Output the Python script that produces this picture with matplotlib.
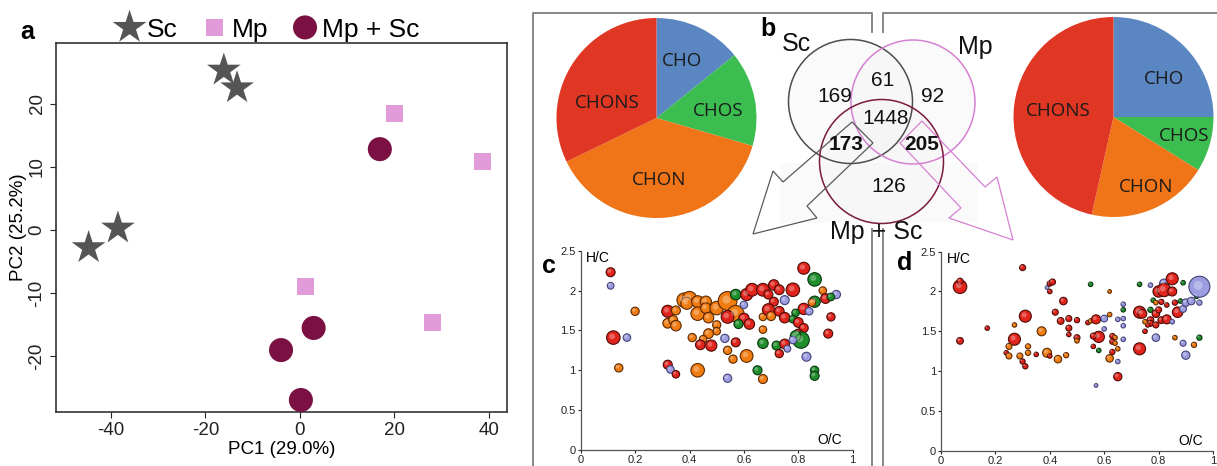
import matplotlib.pyplot as plt
import matplotlib.transforms as mtransforms
from matplotlib.patches import Circle, Polygon, Rectangle

plt.rcParams['font.family'] = ['Liberation Sans', 'DejaVu Sans']
plt.rcParams['axes.unicode_minus'] = False

W, H = 1217, 466

# ---- a: PCA scores ----
sc_pc1 = [-16.1, -13.3, -38.5, -44.7]
sc_pc2 = [25.3, 22.5, 0.3, -2.8]
mp_pc1 = [20.1, 38.7, 1.2, 28.1]
mp_pc2 = [18.5, 10.8, -9.0, -14.7]
mpsc_pc1 = [16.9, 2.9, -4.0, 0.2]
mpsc_pc2 = [12.8, -15.5, -19.0, -26.9]

# ---- b: class composition (%) and venn counts ----
pie_classes = ['CHO', 'CHOS', 'CHON', 'CHONS']
pie_left = [14.2, 15.3, 38.3, 32.2]
pie_right = [25.0, 8.9, 19.6, 46.5]
venn_sets = ['Sc', 'Mp', 'Mp + Sc']
venn_counts = [169, 61, 92, 1448, 173, 205, 126]
venn_bold = [False, False, False, False, True, True, False]

# ---- c / d: van Krevelen (O/C, H/C, intensity, class) ----
c_oc = [0.11, 0.11, 0.12, 0.17, 0.14, 0.20, 0.32, 0.35, 0.32, 0.34, 0.35, 0.38, 0.40, 0.39, 0.43,
        0.46, 0.43, 0.46, 0.50, 0.54, 0.57, 0.47, 0.50, 0.50, 0.54, 0.47, 0.41, 0.45, 0.44, 0.48,
        0.53, 0.57, 0.54, 0.56, 0.61, 0.43, 0.54, 0.32, 0.33, 0.35, 0.57, 0.61, 0.63, 0.67, 0.71,
        0.73, 0.78, 0.69, 0.75, 0.71, 0.60, 0.60, 0.62, 0.58, 0.67, 0.69, 0.70, 0.73, 0.75, 0.67,
        0.67, 0.72, 0.75, 0.76, 0.73, 0.65, 0.67, 0.82, 0.86, 0.89, 0.94, 0.90, 0.92, 0.86, 0.85,
        0.82, 0.84, 0.79, 0.78, 0.80, 0.82, 0.80, 0.81, 0.79, 0.78, 0.92, 0.91, 0.83, 0.86, 0.86]
c_hc = [2.23, 2.06, 1.41, 1.41, 1.03, 1.74, 1.74, 1.75, 1.59, 1.63, 1.56, 1.88, 1.90, 1.84, 1.86,
        1.86, 1.71, 1.78, 1.78, 1.87, 1.71, 1.66, 1.57, 1.49, 1.67, 1.46, 1.41, 1.39, 1.32, 1.31,
        1.40, 1.35, 1.25, 1.14, 1.18, 1.00, 0.90, 1.07, 1.01, 0.95, 1.95, 1.95, 2.01, 2.01, 2.07,
        2.01, 2.01, 1.95, 1.88, 1.86, 1.82, 1.65, 1.58, 1.58, 1.67, 1.76, 1.68, 1.74, 1.66, 1.51,
        1.34, 1.31, 1.33, 1.27, 1.21, 1.00, 0.89, 2.28, 2.14, 2.00, 1.95, 1.90, 1.92, 1.86, 1.85,
        1.77, 1.74, 1.72, 1.64, 1.60, 1.53, 1.46, 1.38, 1.43, 1.38, 1.67, 1.46, 1.17, 1.00, 0.93]
c_int = [12, 9, 18, 10, 11, 11, 16, 12, 13, 12, 14, 19, 19, 16, 16,
         15, 18, 14, 18, 25, 22, 14, 11, 10, 17, 13, 11, 10, 13, 15,
         11, 12, 11, 11, 17, 18, 11, 12, 10, 10, 14, 16, 17, 17, 14,
         13, 18, 12, 12, 12, 10, 14, 14, 12, 10, 16, 12, 13, 14, 10,
         14, 12, 13, 9, 11, 12, 12, 16, 18, 10, 11, 13, 10, 15, 10,
         15, 10, 10, 10, 13, 12, 12, 22, 14, 10, 11, 12, 12, 11, 12]
c_cls = list('RLRLOOROOO' 'OOOOOOOOOO' 'OOOOROOORR' 'LROOOOLRLR' 'GRRRRRRRLR'
             'LRRGORORRO' 'GGRLRGORGO' 'LRGGORLGGR' 'RRGGLRRLGG')

d_oc = [0.07, 0.07, 0.07, 0.30, 0.17, 0.31, 0.27, 0.27, 0.25, 0.24, 0.25, 0.29, 0.30, 0.31, 0.32,
        0.32, 0.35, 0.37, 0.39, 0.40, 0.43, 0.46, 0.39, 0.40, 0.41, 0.40, 0.45, 0.42, 0.44, 0.47,
        0.47, 0.47, 0.50, 0.50, 0.50, 0.54, 0.55, 0.55, 0.57, 0.60, 0.60, 0.58, 0.56, 0.56, 0.58,
        0.62, 0.62, 0.63, 0.64, 0.63, 0.64, 0.65, 0.63, 0.62, 0.65, 0.65, 0.57, 0.65, 0.67, 0.67,
        0.67, 0.67, 0.67, 0.73, 0.73, 0.77, 0.73, 0.74, 0.77, 0.77, 0.76, 0.75, 0.75, 0.78, 0.79,
        0.77, 0.79, 0.80, 0.79, 0.81, 0.83, 0.79, 0.82, 0.80, 0.82, 0.85, 0.85, 0.81, 0.83, 0.86,
        0.88, 0.87, 0.85, 0.89, 0.90, 0.92, 0.94, 0.95, 0.89, 0.95, 0.86, 0.89, 0.90, 0.93, 0.95]
d_hc = [2.06, 2.13, 1.38, 2.30, 1.54, 1.69, 1.58, 1.40, 1.31, 1.23, 1.19, 1.19, 1.12, 1.06, 1.31,
        1.23, 1.21, 1.50, 1.23, 1.19, 1.15, 1.20, 2.05, 2.10, 2.12, 2.00, 1.88, 1.74, 1.63, 1.66,
        1.54, 1.46, 1.64, 1.42, 1.38, 1.61, 1.63, 2.09, 1.65, 1.66, 1.53, 1.43, 1.44, 1.31, 1.26,
        2.00, 1.71, 1.44, 1.42, 1.37, 1.35, 1.28, 1.24, 1.16, 1.12, 0.93, 0.82, 1.65, 1.84, 1.77,
        1.66, 1.57, 1.40, 1.28, 2.09, 2.08, 1.74, 1.72, 1.64, 1.60, 1.58, 1.62, 1.50, 1.89, 1.86,
        1.77, 1.72, 1.77, 1.58, 1.64, 1.65, 1.42, 2.10, 2.00, 2.02, 2.16, 2.00, 1.87, 1.83, 1.86,
        1.88, 1.74, 1.62, 1.78, 1.86, 1.88, 1.94, 2.06, 2.11, 1.86, 1.42, 1.35, 1.20, 1.33, 1.42]
d_int = [18, 8, 9, 8, 6, 16, 6, 16, 8, 6, 8, 8, 7, 7, 7,
         7, 6, 12, 12, 6, 10, 7, 5, 7, 8, 6, 10, 8, 9, 8,
         8, 6, 7, 8, 6, 6, 6, 6, 12, 9, 6, 15, 8, 6, 6,
         5, 6, 7, 6, 7, 6, 6, 7, 10, 6, 11, 5, 6, 6, 6,
         6, 6, 6, 16, 6, 6, 16, 12, 9, 8, 6, 6, 6, 6, 6,
         7, 10, 8, 8, 9, 12, 10, 12, 15, 18, 16, 12, 7, 6, 7,
         6, 14, 6, 9, 10, 10, 6, 28, 6, 7, 6, 8, 11, 7, 7]
d_cls = list('RRRRRROROR' 'OORROOROOR' 'OOLRRRRRRR' 'RRRROROGRL' 'LRRRGOOROR'
             'OOROLRLLLG' 'LLLRGLRRRR' 'RORGOGRRRR' 'RLLRRRRRRR' 'GRLLLLGLGL' 'OLLOG')

cls_face = {'O': '#f07c12', 'R': '#e0241c', 'G': '#1f8f2c', 'L': '#9c9ce0'}
cls_edge = {'O': '#5e2a00', 'R': '#4f0b06', 'G': '#0a3510', 'L': '#44447a'}

fig = plt.figure(figsize=(W / 100, H / 100), dpi=100)


def add_px_axes(l, t, r, b):
    return fig.add_axes([l / W, 1 - b / H, (r - l) / W, (b - t) / H])


# overlay in pixel units for frames, venn and arrows
bg = fig.add_axes([0, 0, 1, 1])
bg.set_xlim(0, W)
bg.set_ylim(H, 0)
bg.axis('off')
fc = '#7d7d7d'
bg.plot([533, 533, 872, 872], [466, 13, 13, 32], color=fc, lw=1.3)
bg.plot([883, 883, 1217], [32, 13, 13], color=fc, lw=1.3)
bg.plot([872, 872], [229, 466], color=fc, lw=1.3)
bg.plot([883, 883], [229, 466], color=fc, lw=1.3)

bg.add_patch(Rectangle((780, 163), 198, 60, fc='#fafafa', ec='none'))
venn_geo = [((850.5, 101.5), '#4d4d4d'), ((913, 102), '#d680d3'), ((881.5, 161.5), '#7a1a3e')]
for (cxy, ec) in venn_geo:
    bg.add_patch(Circle(cxy, 62, fc='#f4f4f4', alpha=0.4, ec='none'))
for (cxy, ec) in venn_geo:
    bg.add_patch(Circle(cxy, 62, fc='none', ec=ec, lw=1.1))

bg.add_patch(Polygon([(852, 122), (783, 182), (773, 171), (753, 234), (817, 218), (807, 206), (873, 143)],
                     closed=True, fc='none', ec='#5a5a5a', lw=0.9))
bg.add_patch(Polygon([(922, 121), (985, 187), (997, 177), (1013, 240), (949, 218), (961, 208), (900, 143)],
                     closed=True, fc='none', ec='#d67fd4', lw=0.9))

venn_txt_pos = [(835, 96), (883, 80), (933, 96), (886, 118), (846, 145), (922, 145), (889, 187)]
for n, (x, y), b in zip(venn_counts, venn_txt_pos, venn_bold):
    bg.text(x, y, str(n), fontsize=15, ha='center', va='center',
            fontweight='bold' if b else 'normal', color='#111111')
for name, (x, y) in zip(venn_sets, [(796, 44), (975, 47), (876, 232)]):
    bg.text(x, y, name, fontsize=18, ha='center', va='center', color='#111111')

for lab, (x, y) in zip('abcd', [(27, 32), (768, 29), (549, 266), (905, 263)]):
    bg.text(x, y, lab, fontsize=18, fontweight='bold', ha='center', va='center')

# ---- a ----
ax = add_px_axes(56, 43, 507, 412)
ax.scatter(sc_pc1, sc_pc2, marker='*', s=650, color='#555555', edgecolors='none', label='Sc', zorder=3)
ax.scatter(mp_pc1, mp_pc2, marker='s', s=150, color='#e29bd9', edgecolors='none', label='Mp', zorder=3)
ax.scatter(mpsc_pc1, mpsc_pc2, marker='o', s=300, color='#7b1143', edgecolors='none', label='Mp + Sc', zorder=3)
ax.set_xlim(-51.6, 43.8)
ax.set_ylim(-28.8, 29.6)
ax.set_xticks([-40, -20, 0, 20, 40])
ax.set_yticks([-20, -10, 0, 10, 20])
ax.tick_params(direction='out', length=4, labelsize=13.5, colors='#222222')
plt.setp(ax.get_yticklabels(), rotation=90, va='center')
for s in ax.spines.values():
    s.set_color('#333333')
    s.set_linewidth(1.2)
ax.set_xlabel('PC1 (29.0%)', fontsize=13.5, labelpad=1)
ax.set_ylabel('PC2 (25.2%)', fontsize=13.5, labelpad=1)
ax.legend(loc='lower center', bbox_to_anchor=(0.47, 0.975), ncol=3, frameon=False, fontsize=19,
          handlelength=1.0, handletextpad=0.15, columnspacing=0.9, borderaxespad=0,
          scatteryoffsets=[0.5])

# ---- b: pies ----
pie_colors = ['#5a87c1', '#3bbd50', '#f07418', '#e03724']
left_lab = [(0.255, 0.57), (0.615, 0.07), (0.025, -0.62), (-0.495, 0.15)]
right_lab = [(0.505, 0.38), (0.705, -0.19), (0.325, -0.70), (-0.555, 0.06)]
for vals, box, labpos in [(pie_left, (556.5, 18, 756.5, 218), left_lab),
                          (pie_right, (1013.5, 17, 1213.5, 217), right_lab)]:
    axp = add_px_axes(*box)
    axp.pie(vals, colors=pie_colors, startangle=90, counterclock=False, radius=1,
            wedgeprops=dict(linewidth=0))
    axp.set_xlim(-1, 1)
    axp.set_ylim(-1, 1)
    axp.axis('off')
    for name, (x, y) in zip(pie_classes, labpos):
        axp.text(x, y, name, ha='center', va='center', fontsize=13.5, color='#1a1a1a',
                 family=['Open Sans', 'DejaVu Sans'])


# ---- c, d ----
def vk_panel(box, oc, hc, inten, cls):
    a = add_px_axes(*box)
    a.patch.set_alpha(0)
    sizes = [(0.54 * r) ** 2 for r in inten]
    a.scatter(oc, hc, s=sizes,
              c=[cls_face[k] for k in cls], edgecolors=[cls_edge[k] for k in cls],
              linewidths=0.8, clip_on=False, zorder=3)
    # small glossy highlight, like the shaded spheres of the original
    shift = mtransforms.ScaledTranslation(-0.9 / 72, 0.9 / 72, fig.dpi_scale_trans)
    a.scatter(oc, hc, s=[v * 0.18 for v in sizes], color='white', alpha=0.3,
              edgecolors='none', clip_on=False, zorder=3, transform=a.transData + shift)
    a.set_xlim(0, 1)
    a.set_ylim(0, 2.5)
    a.set_xticks([0, 0.2, 0.4, 0.6, 0.8, 1])
    a.set_xticklabels(['0', '0.2', '0.4', '0.6', '0.8', '1'])
    a.set_yticks([0, 0.5, 1, 1.5, 2, 2.5])
    a.set_yticklabels(['0', '0.5', '1', '1.5', '2', '2.5'])
    a.tick_params(length=2.5, width=0.8, labelsize=8, pad=1, colors='#222222')
    a.spines['top'].set_visible(False)
    a.spines['right'].set_visible(False)
    for s in ('left', 'bottom'):
        a.spines[s].set_color('#555555')
        a.spines[s].set_linewidth(0.9)
    a.text(0.064, 2.41, 'H/C', fontsize=10, ha='center', va='center')
    a.text(0.917, 0.125, 'O/C', fontsize=10, ha='center', va='center')
    return a


vk_panel((580.7, 250.7, 852.7, 450), c_oc, c_hc, c_int, c_cls)
vk_panel((941, 251.7, 1213, 450.7), d_oc, d_hc, d_int, d_cls)

fig.savefig('out.png', dpi=100)
